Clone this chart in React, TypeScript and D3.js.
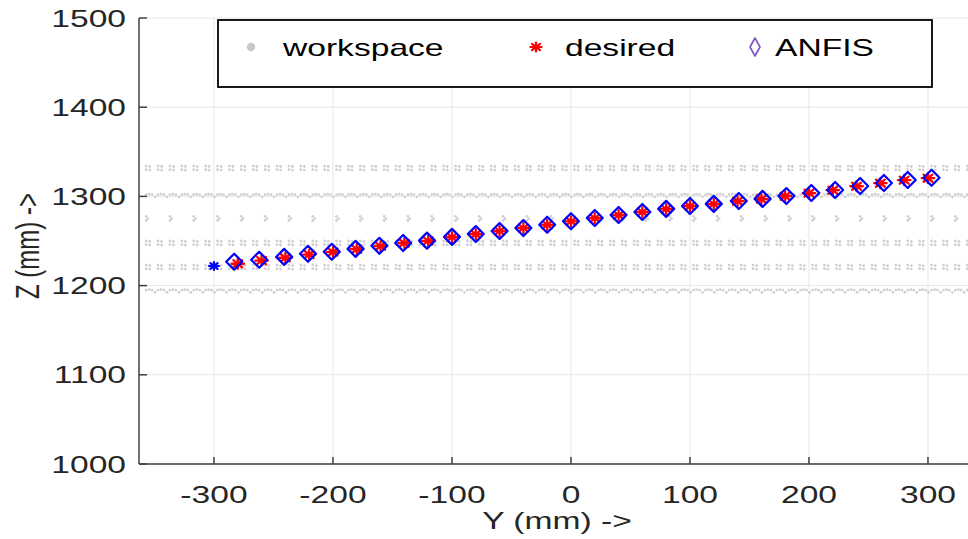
import React from "react";
import * as d3 from "d3";

// ---- data ----
const xTicks = [-300, -200, -100, 0, 100, 200, 300];
const yTicks = [1000, 1100, 1200, 1300, 1400, 1500];

const desiredY = [-280, -260, -240, -220, -200, -180, -160, -140, -120, -100, -80, -60, -40, -20, 0, 20, 40, 60, 80, 100, 120, 140, 160, 180, 200, 220, 240, 260, 280, 300];
const desiredZ = [1224.5, 1228.0, 1231.2, 1234.8, 1237.6, 1240.8, 1244.2, 1247.6, 1250.2, 1254.3, 1257.6, 1261.0, 1264.5, 1268.0, 1272.0, 1275.5, 1279.0, 1282.4, 1285.8, 1289.0, 1291.4, 1294.6, 1297.0, 1300.2, 1303.6, 1307.0, 1311.4, 1314.8, 1318.2, 1320.4];

const anfisY = [-283, -262, -241, -221, -201, -181, -161, -141, -121, -100, -80, -60, -40, -20, 0, 20, 40, 60, 80, 100, 120, 141, 161, 181, 202, 222, 243, 263, 283, 303];
const anfisZ = [1226.8, 1229.0, 1232.2, 1235.6, 1237.9, 1241.2, 1244.6, 1247.8, 1250.4, 1254.6, 1257.8, 1261.2, 1264.6, 1268.2, 1272.2, 1275.8, 1279.2, 1282.6, 1286.0, 1289.2, 1291.6, 1294.8, 1297.2, 1300.4, 1303.8, 1307.2, 1311.6, 1315.0, 1318.4, 1320.8];

const startY = [-300];
const startZ = [1222];

// workspace grid (sampled rows of the reachable workspace)
const wsRowZ = [1332, 1302, 1275, 1248, 1221, 1195];
const wsRowKind = ["cluster", "dense", "sparse", "cluster", "cluster", "dense"];
const wsY = [-360, -350, -340, -330, -320, -310, -300, -290, -280, -270, -260, -250, -240, -230, -220, -210, -200, -190, -180, -170, -160, -150, -140, -130, -120, -110, -100, -90, -80, -70, -60, -50, -40, -30, -20, -10, 0, 10, 20, 30, 40, 50, 60, 70, 80, 90, 100, 110, 120, 130, 140, 150, 160, 170, 180, 190, 200, 210, 220, 230, 240, 250, 260, 270, 280, 290, 300, 310, 320, 330, 340];
const wsPattern: Record<string, number[][]> = {
  cluster: [[0, 2], [0, -2], [3, 1.5], [3, -2.5]],
  dense: [[0, 0], [2.5, 0.5], [5, 0], [7.5, -2.5]],
  sparse: [[0, 2.5], [0, -2], [1.5, 0]],
};

const W = 968;
const H = 539;

const x = d3.scaleLinear().domain([-363, 337]).range([139, 972]);
const y = d3.scaleLinear().domain([1000, 1500]).range([464, 18]);

const FONT = "'Liberation Sans', Arial, Helvetica, sans-serif";
const SX = 1.4;
const FS = 24;

function Star({ cx, cy, color, r = 6, sw = 1.6 }: { cx: number; cy: number; color: string; r?: number; sw?: number }) {
  const rx = r * 1.25;
  const ry = r;
  const d = 0.7071;
  return (
    <g stroke={color} strokeWidth={sw} strokeLinecap="round">
      <line x1={cx - rx} y1={cy} x2={cx + rx} y2={cy} />
      <line x1={cx} y1={cy - ry} x2={cx} y2={cy + ry} />
      <line x1={cx - rx * d} y1={cy - ry * d} x2={cx + rx * d} y2={cy + ry * d} />
      <line x1={cx - rx * d} y1={cy + ry * d} x2={cx + rx * d} y2={cy - ry * d} />
    </g>
  );
}

function Diamond({ cx, cy, color, hw = 8, hh = 8, sw = 1.8 }: { cx: number; cy: number; color: string; hw?: number; hh?: number; sw?: number }) {
  const d = `M${cx},${cy - hh}L${cx + hw},${cy}L${cx},${cy + hh}L${cx - hw},${cy}Z`;
  return <path d={d} fill="none" stroke={color} strokeWidth={sw} strokeLinejoin="round" />;
}

function SText({ x0, y0, anchor = "start", children, rotate = 0, fill = "#262626" }: any) {
  return (
    <text
      transform={`translate(${x0},${y0}) scale(${SX},1)${rotate ? ` rotate(${rotate})` : ""}`}
      textAnchor={anchor}
      fontFamily={FONT}
      fontSize={FS}
      fill={fill}
    >
      {children}
    </text>
  );
}

export default function App() {
  const left = 139;
  const right = W;
  const top = 18;
  const bottom = 464;

  const wsDots: { cx: number; cy: number }[] = [];
  wsRowZ.forEach((z, ri) => {
    const kind = wsRowKind[ri];
    const pat = wsPattern[kind];
    wsY.forEach((yy, i) => {
      if (kind === "sparse" && i % 2 === 1) return;
      pat.forEach(([dy, dz]) => {
        wsDots.push({ cx: x(yy + dy + 3), cy: y(z + dz) });
      });
    });
  });

  return (
    <svg width={W} height={H} style={{ position: "absolute", left: 0, top: 0, background: "#fff" }}>
      <defs>
        <clipPath id="plotclip">
          <rect x={left} y={top} width={right - left} height={bottom - top} />
        </clipPath>
      </defs>
      <rect x={0} y={0} width={W} height={H} fill="#fff" />
      {/* grid */}
      <g stroke="#e6e6e6" strokeWidth={1}>
        {xTicks.map((t) => (
          <line key={"gx" + t} x1={x(t)} x2={x(t)} y1={top} y2={bottom} />
        ))}
        {yTicks.map((t) => (
          <line key={"gy" + t} x1={left} x2={right} y1={y(t)} y2={y(t)} />
        ))}
      </g>
      <g clipPath="url(#plotclip)">
        {/* workspace */}
        <g fill="#d0d0d0">
          {wsDots.map((p, i) => (
            <circle key={i} cx={p.cx} cy={p.cy} r={1.4} />
          ))}
        </g>
        {/* start point */}
        {startY.map((v, i) => (
          <Star key={"s" + i} cx={x(v)} cy={y(startZ[i])} color="#0000ff" r={4} sw={2.2} />
        ))}
        {/* desired */}
        {desiredY.map((v, i) => (
          <Star key={"d" + i} cx={x(v)} cy={y(desiredZ[i])} color="#ff0000" r={5} sw={2.3} />
        ))}
        {/* ANFIS */}
        {anfisY.map((v, i) => (
          <Diamond key={"a" + i} cx={x(v)} cy={y(anfisZ[i])} color="#0000ff" hw={8} hh={8} sw={2.2} />
        ))}
      </g>
      {/* axes */}
      <g stroke="#404040" strokeWidth={1.5}>
        <line x1={left} x2={left} y1={top} y2={bottom} />
        <line x1={left} x2={right} y1={bottom} y2={bottom} />
        {yTicks.map((t) => (
          <line key={"ty" + t} x1={left} x2={left + 8} y1={y(t)} y2={y(t)} />
        ))}
        {xTicks.map((t) => (
          <line key={"tx" + t} x1={x(t)} x2={x(t)} y1={bottom} y2={bottom - 7} />
        ))}
      </g>
      {/* tick labels */}
      {yTicks.map((t) => (
        <SText key={"ly" + t} x0={126} y0={y(t) + 8.5} anchor="end">
          {String(t)}
        </SText>
      ))}
      {xTicks.map((t) => (
        <SText key={"lx" + t} x0={x(t)} y0={503} anchor="middle">
          {String(t)}
        </SText>
      ))}
      <SText x0={557} y0={529} anchor="middle">
        Y (mm) -&gt;
      </SText>
      <SText x0={27} y0={246} anchor="middle" rotate={-90}>
        <tspan dy={8.5}>Z (mm) -&gt;</tspan>
      </SText>
      {/* legend */}
      <rect x={218} y={20} width={714} height={67} fill="#fff" stroke="#000" strokeWidth={1.8} />
      <circle cx={251} cy={47} r={4.2} fill="#c8c8c8" />
      <SText x0={283} y0={56} fill="#000">workspace</SText>
      <Star cx={536} cy={47} color="#ff0000" r={4.5} sw={2.2} />
      <SText x0={565} y0={56} fill="#000">desired</SText>
      <Diamond cx={755} cy={47} color="#8050c8" hw={5} hh={9} sw={1.6} />
      <SText x0={775} y0={56} fill="#000">ANFIS</SText>
    </svg>
  );
}
